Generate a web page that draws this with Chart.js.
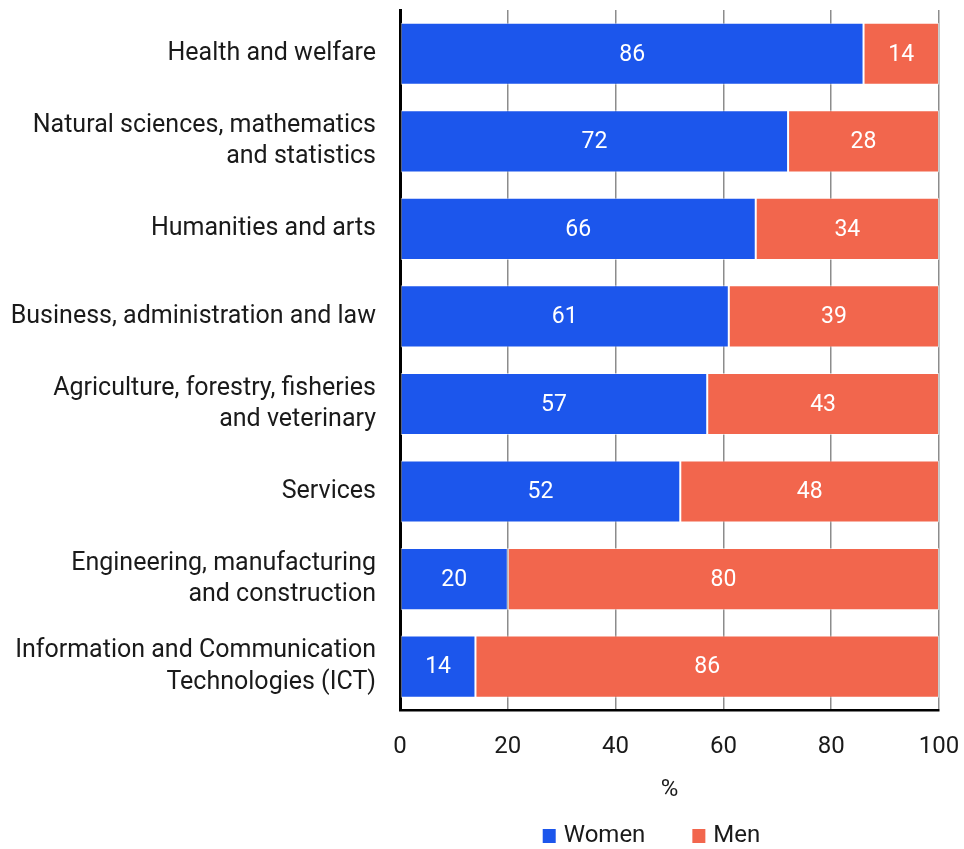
<!DOCTYPE html>
<html><head><meta charset="utf-8">
<script src="https://cdn.jsdelivr.net/npm/chart.js@4.4.0/dist/chart.umd.min.js"></script>
<style>html,body{margin:0;padding:0;background:#fff}#wrap{width:964px;height:849px;position:relative}</style>
</head><body><div id="wrap"><canvas id="c" width="964" height="849"></canvas></div>
<script>
const categories = [
  ["Health and welfare"],
  ["Natural sciences, mathematics", "and statistics"],
  ["Humanities and arts"],
  ["Business, administration and law"],
  ["Agriculture, forestry, fisheries", "and veterinary"],
  ["Services"],
  ["Engineering, manufacturing", "and construction"],
  ["Information and Communication", "Technologies (ICT)"]
];
const women = [86, 72, 66, 61, 57, 52, 20, 14];
const men = [14, 28, 34, 39, 43, 48, 80, 86];
const seriesNames = ["Women", "Men"];
const xTicks = [0, 20, 40, 60, 80, 100];
const axisTitle = "%";

const FONT = "Roboto";
const BLUE = "#1c56ec";
const RED = "#f2664d";

const valueLabels = {
  id: "valueLabels",
  afterDatasetsDraw(chart) {
    const ctx = chart.ctx;
    ctx.save();
    ctx.fillStyle = "#ffffff";
    ctx.font = "23px " + FONT;
    ctx.textAlign = "center";
    ctx.textBaseline = "middle";
    chart.data.datasets.forEach((ds, di) => {
      const meta = chart.getDatasetMeta(di);
      meta.data.forEach((el, i) => {
        const cx = (el.x + el.base) / 2;
        ctx.fillText(String(ds.data[i]), cx, el.y + 1);
      });
    });
    ctx.restore();
  }
};

const customLegend = {
  id: "customLegend",
  afterDraw(chart) {
    const ctx = chart.ctx;
    const ca = chart.chartArea;
    ctx.save();
    ctx.font = "24px " + FONT;
    ctx.textBaseline = "middle";
    ctx.textAlign = "left";
    const box = 13, gapText = 8, gapItem = 47;
    const items = chart.data.datasets.map(ds => ({ label: ds.label, color: ds.backgroundColor, w: ctx.measureText(ds.label).width }));
    let total = 0;
    items.forEach((it, i) => { total += box + gapText + it.w + (i < items.length - 1 ? gapItem : 0); });
    const center = (ca.left + ca.right) / 2 - 18;
    let x = center - total / 2;
    const y = 836;
    items.forEach(it => {
      ctx.fillStyle = it.color;
      ctx.fillRect(x, y - 7, box, 14);
      ctx.fillStyle = "#1a1a1a";
      ctx.fillText(it.label, x + box + gapText, y);
      x += box + gapText + it.w + gapItem;
    });
    ctx.restore();
  }
};

new Chart(document.getElementById("c"), {
  type: "bar",
  data: {
    labels: categories,
    datasets: [
      { label: seriesNames[0], data: women, backgroundColor: BLUE, borderColor: "rgba(255,255,255,0.55)", borderWidth: 1, borderSkipped: false, barPercentage: 0.71, categoryPercentage: 1.0 },
      { label: seriesNames[1], data: men, backgroundColor: RED, borderColor: "rgba(255,255,255,0.55)", borderWidth: 1, borderSkipped: false, barPercentage: 0.71, categoryPercentage: 1.0 }
    ]
  },
  options: {
    indexAxis: "y",
    responsive: false,
    animation: false,
    layout: { padding: { top: 10, right: 25, left: 0, bottom: 45 } },
    plugins: { legend: { display: false }, tooltip: { enabled: false } },
    scales: {
      x: {
        stacked: true,
        min: 0, max: 100,
        afterBuildTicks(scale) { scale.ticks = xTicks.map(v => ({ value: v })); },
        afterFit(scale) { scale.paddingLeft = 0; scale.paddingRight = 0; },
        grid: { color: "#8c8c8c", lineWidth: 1.5, drawTicks: false },
        border: { display: true, color: "#000000", width: 2.5 },
        ticks: { color: "#1a1a1a", font: { family: FONT, size: 24 }, padding: 22, maxRotation: 0 },
        title: { display: true, text: axisTitle, color: "#1a1a1a", font: { family: FONT, size: 24 }, padding: { top: -8, bottom: 0 } }
      },
      y: {
        stacked: true,
        afterFit(scale) { scale.width = 400; scale.paddingTop = 0; scale.paddingBottom = 0; },
        grid: { display: false, drawTicks: false },
        border: { display: true, color: "#000000", width: 3 },
        ticks: { color: "#1a1a1a", font: { family: FONT, size: 25, lineHeight: 1.25 }, padding: 24, autoSkip: false }
      }
    }
  },
  plugins: [valueLabels, customLegend]
});
</script>
</body></html>
